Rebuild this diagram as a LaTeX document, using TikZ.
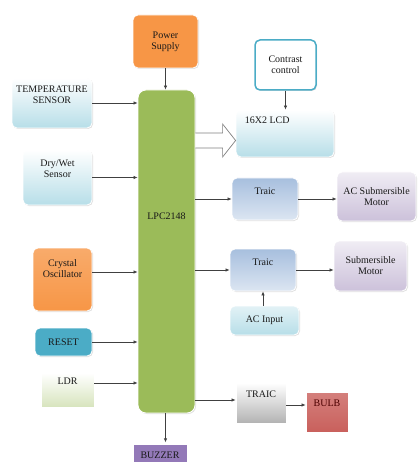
\documentclass[tikz,border=0pt]{standalone}
\usepackage{fontspec}
\setmainfont{Liberation Serif}
\usetikzlibrary{arrows.meta,shadows}
\definecolor{psorange}{HTML}{F79646}
\definecolor{lpcgreen}{HTML}{9BBB59}
\definecolor{skyblue}{HTML}{B7DEE8}
\definecolor{resetblue}{HTML}{4BACC6}
\definecolor{ldrgreen}{HTML}{D7E4BD}
\definecolor{buzzpurple}{HTML}{9379B8}
\definecolor{traicblue}{HTML}{A7BFDE}
\definecolor{motorlilac}{HTML}{CCC1DA}
\definecolor{bulbred}{HTML}{C9605C}
\begin{document}
\begin{tikzpicture}[x=1pt,y=-1pt,
    font=\fontsize{10}{11}\selectfont,
    blk/.style={rounded corners=5pt, draw=white, line width=0.8pt, align=center,
                inner sep=1pt, text=black!90,
                drop shadow={opacity=0.25,shadow xshift=1pt,shadow yshift=-1pt}},
    conn/.style={-{Latex[length=4pt,width=3.5pt]}, draw=black!75, line width=0.7pt}]
\useasboundingbox (0,0) rectangle (418,462);
% supply and controller
\node[blk, fill=psorange, minimum width=65pt, minimum height=53pt] (power) at (165.5,41.5) {Power\\Supply};
\node[blk, rounded corners=8pt, fill=lpcgreen, minimum width=57pt, minimum height=323pt,
      label={[yshift=35.5pt, text=black!90]center:LPC2148}] (lpc) at (166.5,251.5) {};
% inputs
\node[blk, top color=white, bottom color=skyblue, minimum width=80pt, minimum height=50pt] (temp) at (52,103) {TEMPERATURE\\SENSOR\\[6pt]};
\node[blk, top color=white, bottom color=skyblue, minimum width=69pt, minimum height=55pt] (drywet) at (57.5,177.5) {Dry/Wet\\Sensor\\[6pt]};
\node[blk, top color=psorange!80, bottom color=psorange, minimum width=59pt, minimum height=63pt] (crystal) at (62.5,279.5) {Crystal\\Oscillator\\[10pt]};
\node[blk, fill=resetblue, minimum width=57pt, minimum height=28pt] (reset) at (63.5,342) {RESET};
\node[blk, rounded corners=0pt, top color=white, bottom color=ldrgreen, minimum width=53pt, minimum height=34pt] (ldr) at (67.5,390) {LDR\\[6pt]};
\node[blk, rounded corners=0pt, fill=buzzpurple, minimum width=54pt, minimum height=22pt] (buzzer) at (160,455) {BUZZER};
% outputs
\node[blk, draw=resetblue, line width=1.5pt, fill=white, minimum width=61pt, minimum height=50pt] (contrast) at (285.5,65) {Contrast\\control};
\node[blk, top color=white, bottom color=skyblue, minimum width=98pt, minimum height=47pt,
      label={[anchor=west, inner sep=0pt, xshift=9pt, yshift=13.5pt, text=black!90]west:16X2 LCD}] (lcd) at (285,133.5) {};
\node[blk, top color=traicblue, bottom color=traicblue!40, minimum width=66pt, minimum height=42pt] (traic1) at (265,199) {Traic\\[4pt]};
\node[blk, top color=motorlilac!30, bottom color=motorlilac, minimum width=79pt, minimum height=49pt] (acmotor) at (376.5,196.5) {AC Submersible\\Motor};
\node[blk, top color=traicblue, bottom color=traicblue!40, minimum width=66pt, minimum height=42pt] (traic2) at (263,270) {Traic\\[4pt]};
\node[blk, top color=motorlilac!30, bottom color=motorlilac, minimum width=73pt, minimum height=50pt] (submotor) at (370.5,266) {Submersible\\Motor};
\node[blk, top color=skyblue!40, bottom color=skyblue, minimum width=69pt, minimum height=29pt] (acin) at (264.5,320.5) {AC Input};
\node[blk, rounded corners=0pt, top color=white, bottom color=black!30, minimum width=50pt, minimum height=40pt] (traic3) at (261,403) {TRAIC\\[6pt]};
\node[blk, rounded corners=0pt, top color=bulbred!80, bottom color=bulbred, minimum width=42pt, minimum height=40pt, text=red!30!black] (bulb) at (327,412) {BULB\\[6pt]};
% connections
\draw[conn] (power.south) -- (power.south |- lpc.north);
\draw[conn] (temp.east) -- (temp.east -| lpc.west);
\draw[conn] (drywet.east) -- (drywet.east -| lpc.west);
\draw[conn] ([yshift=7.5pt]crystal.east) -- ([yshift=7.5pt]crystal.east -| lpc.west);
\draw[conn] (reset.east) -- (reset.east -| lpc.west);
\draw[conn] ([yshift=7pt]ldr.east) -- ([yshift=7pt]ldr.east -| lpc.west);
\draw[conn] (lpc.south -| buzzer.north) ++(5.5,0) -- ++(0,29);
\draw[conn] (contrast.south) -- (contrast.south |- lcd.north);
\draw[conn] (traic1.west -| lpc.east) -- (traic1.west);
\draw[conn] (traic1.east) -- (traic1.east -| acmotor.west);
\draw[conn] (traic2.west -| lpc.east) -- (traic2.west);
\draw[conn] (traic2.east) -- (traic2.east -| submotor.west);
\draw[conn] (acin.north -| traic2.south) -- (traic2.south);
\draw[conn] ([yshift=3pt]traic3.west -| lpc.east) -- ([yshift=3pt]traic3.west);
\draw[conn] ([yshift=-2pt]traic3.east) -- ([yshift=-2pt]traic3.east -| bulb.west);
% hollow bus arrow to the LCD
\coordinate (ht) at ([yshift=-7pt]lcd.west);
\coordinate (hs) at (lpc.east |- ht);
\draw[draw=black!50, fill=white, line width=0.7pt]
  ([yshift=7.5pt]hs) -- ([xshift=-13pt,yshift=7.5pt]ht) -- ([xshift=-13pt,yshift=16.5pt]ht)
  -- (ht) -- ([xshift=-13pt,yshift=-16.5pt]ht) -- ([xshift=-13pt,yshift=-7.5pt]ht) -- ([yshift=-7.5pt]hs);
\end{tikzpicture}
\end{document}
